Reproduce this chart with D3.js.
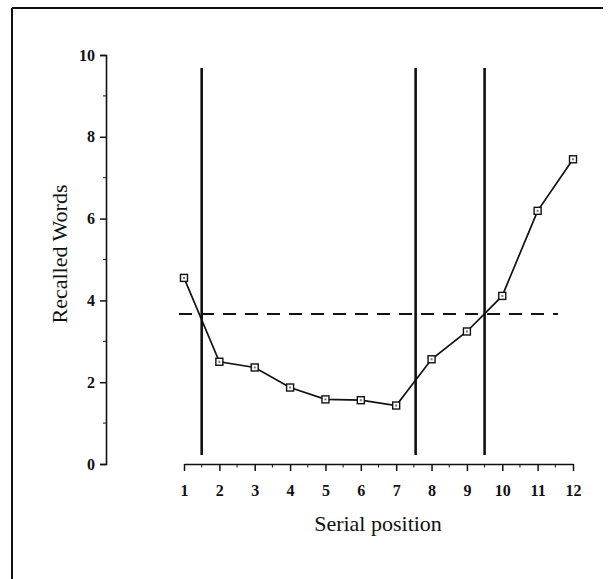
<!DOCTYPE html>
<html>
<head>
<meta charset="utf-8">
<script src="https://cdn.jsdelivr.net/npm/d3@7"></script>
<style>
  body { margin: 0; background: #fff; }
  svg { display: block; }
  .tick text { font-family: "Liberation Serif", serif; font-weight: bold; font-size: 16px; }
</style>
</head>
<body>
<div id="chart"></div>
<script>
// serial position curve
var positions = [1, 2, 3, 4, 5, 6, 7, 8, 9, 10, 11, 12]
var recalled = [4.55, 2.5, 2.36, 1.87, 1.58, 1.56, 1.43, 2.56, 3.24, 4.11, 6.19, 7.45]
var boundaries = [1.5, 7.55, 9.5]   // vertical separators
var meanLevel = [3.67]              // dashed reference line
var yTicks = [0, 2, 4, 6, 8, 10]

var W = 608, H = 579

var svg = d3.select('#chart').append('svg')
  .attr('width', W).attr('height', H)

// page frame (top and left edges only, like the scan)
svg.append('line').attr('x1', 12).attr('y1', 8).attr('x2', 603).attr('y2', 8)
  .attr('stroke', '#111').attr('stroke-width', 2)
svg.append('line').attr('x1', 12).attr('y1', 8).attr('x2', 12).attr('y2', H)
  .attr('stroke', '#111').attr('stroke-width', 2)

var x = d3.scaleLinear().domain([1, 12]).range([184, 573])
var y = d3.scaleLinear().domain([0, 10]).range([464, 55])

// y axis
var yAxis = svg.append('g').attr('transform', 'translate(106,0)')
  .call(d3.axisLeft(y).tickValues(yTicks).tickSize(6).tickPadding(5).tickFormat(d3.format('d')))
yAxis.append('g').selectAll('line').data(d3.range(1, 10, 2)).join('line')
  .attr('x1', -3).attr('x2', 0).attr('y1', y).attr('y2', y).attr('stroke', '#111')

// x axis
var xAxis = svg.append('g').attr('transform', 'translate(0,464)')
  .call(d3.axisBottom(x).tickValues(positions).tickSize(7).tickPadding(14).tickSizeOuter(0).tickFormat(d3.format('d')))
xAxis.append('g').selectAll('line').data(d3.range(1.5, 12, 1)).join('line')
  .attr('x1', x).attr('x2', x).attr('y1', 0).attr('y2', 3.5).attr('stroke', '#111')

svg.selectAll('.domain').attr('stroke', '#111').attr('stroke-width', 1.6)
svg.selectAll('.tick line').attr('stroke', '#111').attr('stroke-width', 1.5)
svg.selectAll('.tick text').attr('fill', '#111')

// axis titles
svg.append('text')
  .attr('transform', 'translate(67,254) rotate(-90)')
  .attr('text-anchor', 'middle')
  .style('font-family', '"Liberation Serif", serif').style('font-size', '22px')
  .attr('fill', '#111')
  .text('Recalled Words')
svg.append('text')
  .attr('x', 378).attr('y', 531)
  .attr('text-anchor', 'middle')
  .style('font-family', '"Liberation Serif", serif').style('font-size', '22px')
  .attr('fill', '#111')
  .text('Serial position')

// vertical separators
svg.selectAll('.sep').data(boundaries).join('line').attr('class', 'sep')
  .attr('x1', x).attr('x2', x).attr('y1', 68).attr('y2', 455)
  .attr('stroke', '#111').attr('stroke-width', 2.6)

// dashed line
svg.selectAll('.mean').data(meanLevel).join('line').attr('class', 'mean')
  .attr('x1', 179).attr('x2', 558).attr('y1', y).attr('y2', y)
  .attr('stroke', '#111').attr('stroke-width', 2).attr('stroke-dasharray', '13,9')

// data line
var line = d3.line().x(function(d, i) { return x(positions[i]) }).y(function(d) { return y(d) })
svg.append('path').datum(recalled)
  .attr('d', line).attr('fill', 'none').attr('stroke', '#111').attr('stroke-width', 1.7)

// markers
var pts = svg.selectAll('.pt').data(recalled).join('g').attr('class', 'pt')
  .attr('transform', function(d, i) { return 'translate(' + x(positions[i]) + ',' + y(d) + ')' })
pts.append('rect').attr('x', -3.5).attr('y', -3.5).attr('width', 7).attr('height', 7)
  .attr('fill', '#fff').attr('stroke', '#111').attr('stroke-width', 1.4)
pts.append('rect').attr('x', -1).attr('y', -1).attr('width', 2).attr('height', 2)
  .attr('fill', '#777')
</script>
</body>
</html>
